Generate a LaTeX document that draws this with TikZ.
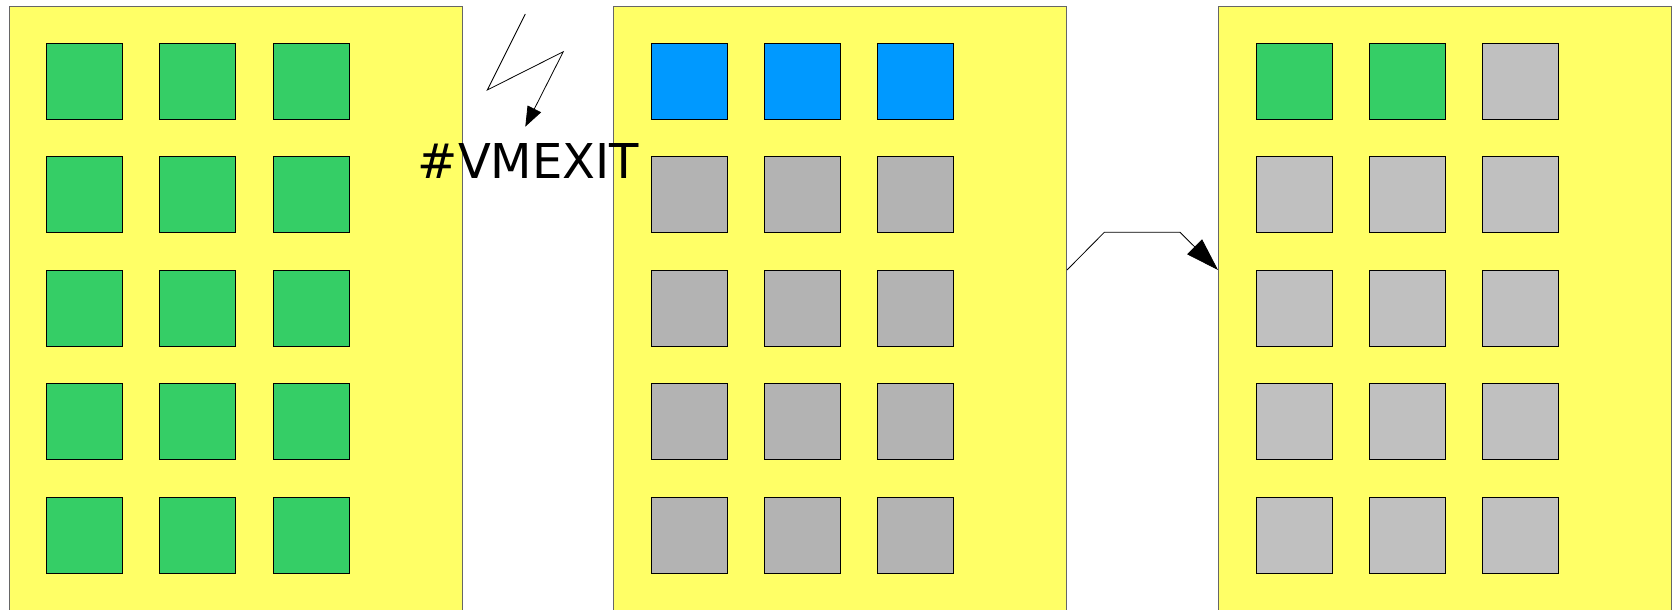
\documentclass[tikz,border=0pt]{standalone}
\usepackage{fontspec}
\newfontfamily\labelfont{DejaVu Sans}
\usetikzlibrary{arrows.meta}
\definecolor{panelyellow}{HTML}{FFFF66}
\definecolor{cellgreen}{HTML}{35CE66}
\definecolor{cellblue}{HTML}{0099FF}
\definecolor{cellgray}{HTML}{B3B3B3}
\definecolor{cellsilver}{HTML}{C0C0C0}
\definecolor{panelborder}{HTML}{666666}
\tikzset{
  panel/.style={draw=panelborder, fill=panelyellow, line width=1pt, minimum width=453pt, minimum height=700pt, inner sep=0pt, anchor=north west},
  cell/.style={draw=black, line width=1pt, minimum width=76pt, minimum height=76pt, inner sep=0pt},
  conn/.style={draw=black, line width=0.8pt},
}
\begin{document}
\begin{tikzpicture}[x=1pt,y=-1pt]
\useasboundingbox (0,0) rectangle (1678,610);
\clip (0,0) rectangle (1678,610);
% panels
\node[panel] (p1) at (8.5,6) {};
\node[panel] (p2) at (613,6) {};
\node[panel] (p3) at (1218,6) {};
% panel 1 cells: all green
\foreach \i in {0,1,2}{
  \foreach \j in {0,...,4}{
    \node[cell, fill=cellgreen] (a\i\j) at (8.5+76+113.3*\i, 81.5+113.4*\j) {};
  }
}
% panel 2 cells
\foreach \i in {0,1,2}{
  \node[cell, fill=cellblue] (b\i0) at (613+76+113.3*\i, 81.5) {};
  \foreach \j in {1,...,4}{
    \node[cell, fill=cellgray] (b\i\j) at (613+76+113.3*\i, 81.5+113.4*\j) {};
  }
}
% panel 3 cells
\node[cell, fill=cellgreen] (c00) at (1218+76, 81.5) {};
\node[cell, fill=cellgreen] (c10) at (1218+76+113.3, 81.5) {};
\node[cell, fill=cellsilver] (c20) at (1218+76+226.6, 81.5) {};
\foreach \i in {0,1,2}{
  \foreach \j in {1,...,4}{
    \node[cell, fill=cellsilver] (c\i\j) at (1218+76+113.3*\i, 81.5+113.4*\j) {};
  }
}
% connector from panel 2 to panel 3
\draw[conn, -{Triangle[length=33pt,width=21pt]}]
  ([yshift=-264pt]p2.north east) -- (1104.3,232.3) -- (1180,232.3) -- ([yshift=-264pt]p3.north west);
% lightning symbol
\node[font=\labelfont\fontsize{48}{58}\selectfont, anchor=base, inner sep=0pt] (vmexit) at (528.5,178.5) {\#VMEXIT};
\coordinate (l1) at (525.3,14);
\coordinate (l2) at (487.3,90);
\coordinate (l3) at (563.3,51.7);
\draw[conn, -{Triangle[length=20pt,width=15pt]}]
  (l1) -- (l2) -- (l3) -- (525.3,126.7);
\end{tikzpicture}
\end{document}
